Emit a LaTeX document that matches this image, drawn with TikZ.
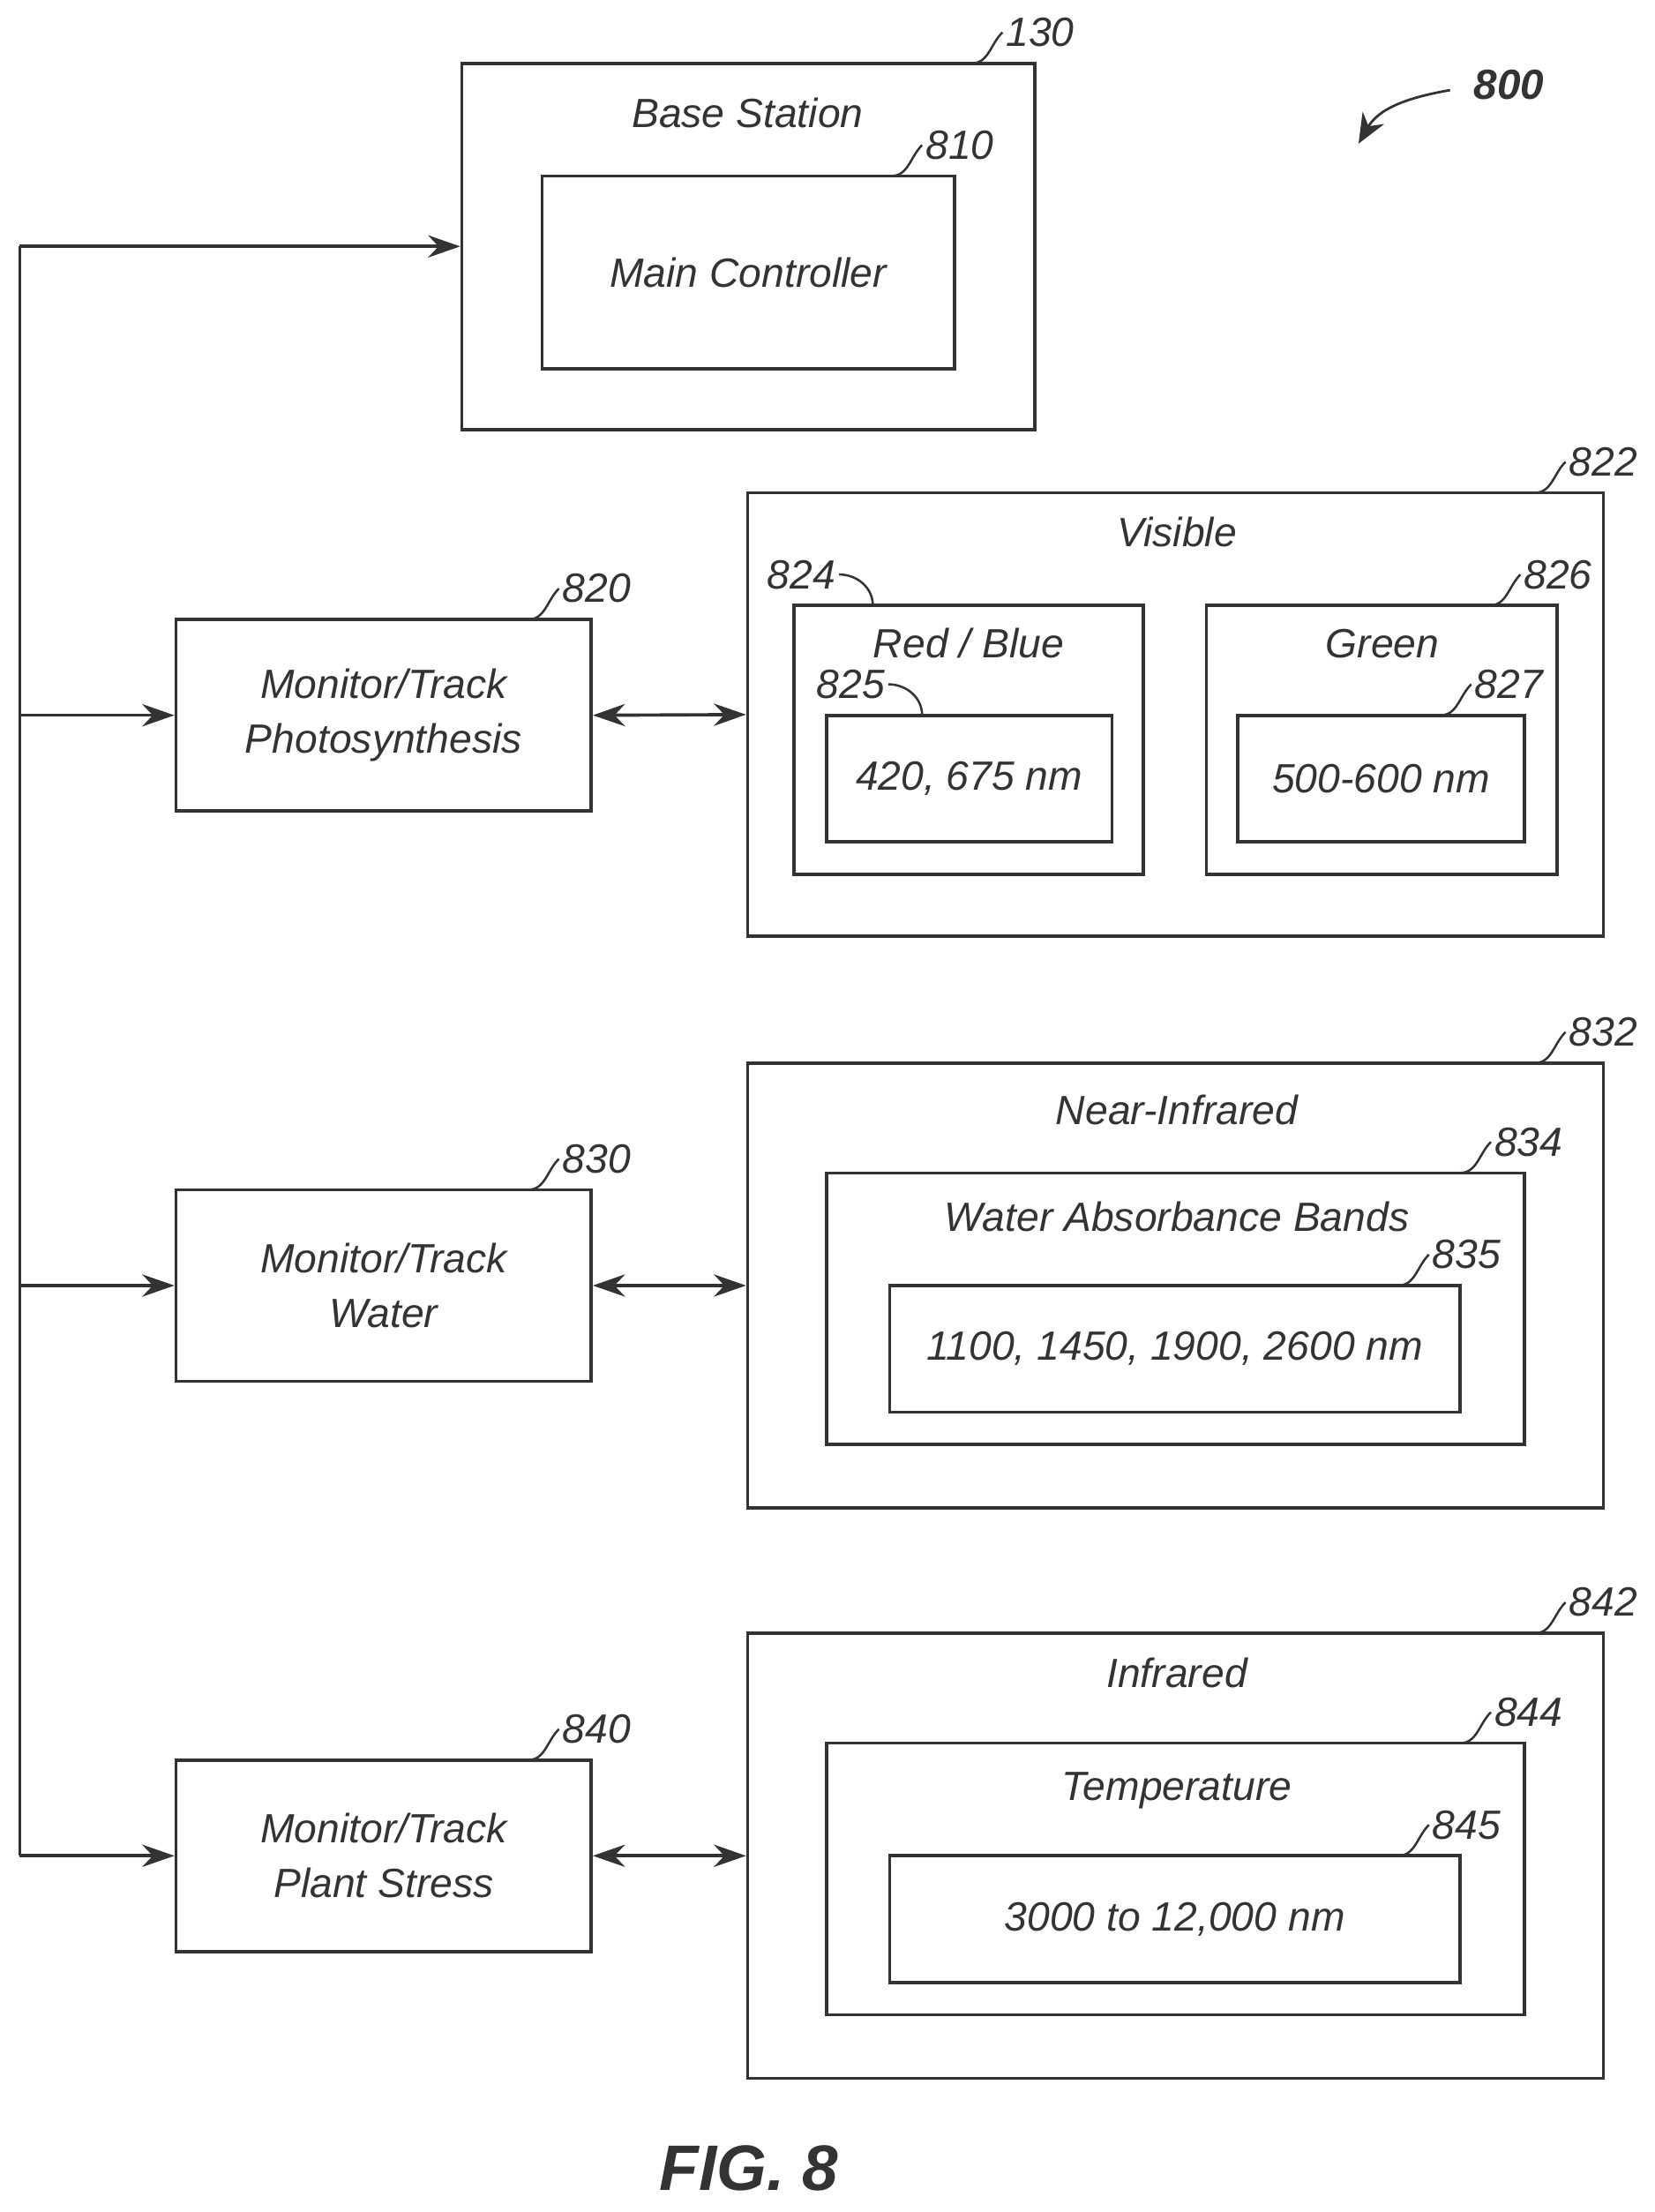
\documentclass[tikz,border=0pt]{standalone}
\usepackage{fontspec}
\setmainfont{Liberation Sans}
\usetikzlibrary{arrows.meta}
\definecolor{ink}{HTML}{333333}

\newcommand{\refnum}[2]{%
    \draw[ink, line width=0.9pt] (#1) to[out=0, in=225] ++(22,22) node[anchor=west, inner sep=1pt] {#2};}
\newcommand{\refnumleft}[2]{%
    \draw[ink, line width=0.9pt] (#1) to[out=90, in=0] ++(-24,22) node[anchor=east, inner sep=1pt] {#2};}

\begin{document}
\begin{tikzpicture}[x=0.02cm, y=0.02cm,
    every node/.style={text=ink, font=\fontsize{16.5}{22}\selectfont\itshape},
    box/.style={draw=ink, line width=1.3pt, inner sep=0pt, align=center},
    arr/.style={draw=ink, line width=1.3pt, -{Stealth[length=13pt, width=9pt]}},
    darr/.style={draw=ink, line width=1.3pt, {Stealth[length=13pt, width=9pt]}-{Stealth[length=13pt, width=9pt]}}]
    \useasboundingbox (0,0) rectangle (1175,-1571);

    % Base station
    \node[box, minimum width=8.14cm, minimum height=5.2cm] (base) at (531.5,-175) {};
    \node (baselbl) at (531,-80) {Base Station};
    \node[box, minimum width=5.86cm, minimum height=2.74cm] (main) at (531.5,-193.5) {Main Controller};
    \refnum{690,-45}{130}
    \refnum{633,-125}{810}
    \node[font=\fontsize{17}{20}\selectfont\bfseries\itshape] (fig800) at (1072,-60) {800};
    \draw[ink, line width=1pt, -{Stealth[length=12pt, width=10pt]}] (1030,-64) to[out=190, in=60] (965,-102);

    % Monitor blocks
    \node[box, minimum width=5.9cm, minimum height=2.72cm] (m820) at (272.5,-508) {Monitor/Track\\Photosynthesis};
    \node[box, minimum width=5.9cm, minimum height=2.72cm] (m830) at (272.5,-913) {Monitor/Track\\Water};
    \node[box, minimum width=5.9cm, minimum height=2.72cm] (m840) at (272.5,-1318) {Monitor/Track\\Plant Stress};
    \refnum{375,-440}{820}
    \refnum{375,-845}{830}
    \refnum{375,-1250}{840}

    % Visible
    \node[box, minimum width=12.16cm, minimum height=6.3cm] (v822) at (835,-507.5) {};
    \node (vislbl) at (836,-378) {Visible};
    \node[box, minimum width=4.96cm, minimum height=3.82cm] (r824) at (688,-525.5) {};
    \node (redlbl) at (688,-457) {Red / Blue};
    \node[box, minimum width=4.06cm, minimum height=1.8cm] (r825) at (688.5,-553) {420, 675 nm};
    \node[box, minimum width=4.98cm, minimum height=3.82cm] (g826) at (981.5,-525.5) {};
    \node (grnlbl) at (982,-457) {Green};
    \node[box, minimum width=4.08cm, minimum height=1.8cm] (g827) at (981,-553) {500-600 nm};
    \refnum{1090,-350}{822}
    \refnumleft{620,-430}{824}
    \refnumleft{655,-508}{825}
    \refnum{1058,-430}{826}
    \refnum{1023,-508}{827}

    % Near-infrared
    \node[box, minimum width=12.16cm, minimum height=6.32cm] (n832) at (835,-913) {};
    \node (nirlbl) at (836,-788) {Near-Infrared};
    \node[box, minimum width=9.92cm, minimum height=3.86cm] (w834) at (835,-929.5) {};
    \node (watlbl) at (836,-864) {Water Absorbance Bands};
    \node[box, minimum width=8.1cm, minimum height=1.8cm] (w835) at (834.5,-958) {1100, 1450, 1900, 2600 nm};
    \refnum{1090,-755}{832}
    \refnum{1037,-833}{834}
    \refnum{993,-913}{835}

    % Infrared
    \node[box, minimum width=12.16cm, minimum height=6.32cm] (i842) at (835,-1318) {};
    \node (irlbl) at (836,-1188) {Infrared};
    \node[box, minimum width=9.92cm, minimum height=3.86cm] (t844) at (835,-1334.5) {};
    \node (templbl) at (836,-1272) {Temperature};
    \node[box, minimum width=8.1cm, minimum height=1.8cm] (t845) at (834.5,-1363) {3000 to 12,000 nm};
    \refnum{1090,-1160}{842}
    \refnum{1037,-1238}{844}
    \refnum{993,-1318}{845}

    % Connectors
    \coordinate (top) at (14,-175);
    \coordinate (bot) at (14,-1318);
    \draw[ink, line width=1.3pt] (top) -- (bot);
    \draw[arr] (top) -- (base.west);
    \draw[arr] (m820.west -| top) -- (m820.west);
    \draw[arr] (m830.west -| top) -- (m830.west);
    \draw[arr] (bot) -- (m840.west);
    \draw[darr] (m820.east) -- (v822.west);
    \draw[darr] (m830.east) -- (n832.west);
    \draw[darr] (m840.east) -- (i842.west);

    \node[font=\fontsize{26}{30}\selectfont\bfseries\itshape] (fig) at (532,-1540) {FIG. 8};
\end{tikzpicture}
\end{document}
